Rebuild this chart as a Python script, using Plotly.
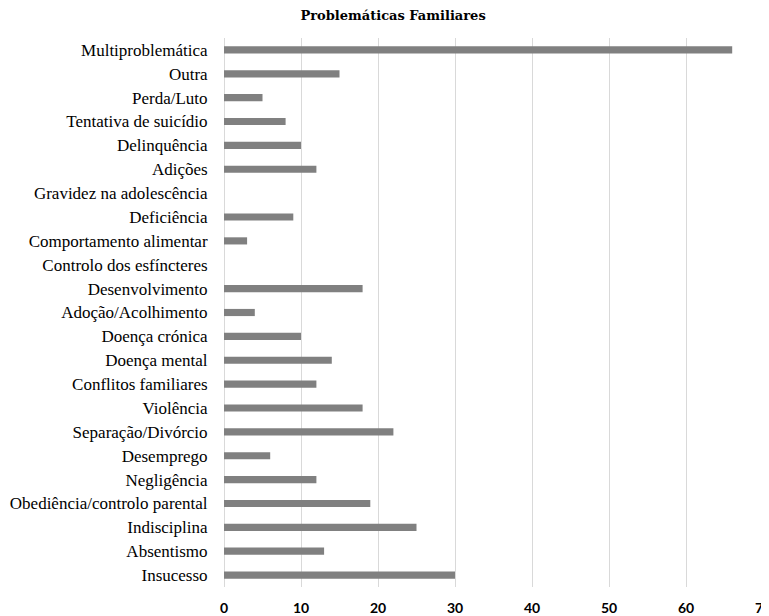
import plotly.graph_objects as go

categories = [
    "Multiproblemática", "Outra", "Perda/Luto", "Tentativa de suicídio",
    "Delinquência", "Adições", "Gravidez na adolescência", "Deficiência",
    "Comportamento alimentar", "Controlo dos esfíncteres", "Desenvolvimento",
    "Adoção/Acolhimento", "Doença crónica", "Doença mental",
    "Conflitos familiares", "Violência", "Separação/Divórcio", "Desemprego",
    "Negligência", "Obediência/controlo parental", "Indisciplina",
    "Absentismo", "Insucesso",
]
values = [66, 15, 5, 8, 10, 12, 0, 9, 3, 0, 18, 4, 10, 14, 12, 18, 22, 6,
          12, 19, 25, 13, 30]
tick_vals = [0, 10, 20, 30, 40, 50, 60, 70]

fig = go.Figure(go.Bar(
    x=values, y=categories, orientation="h",
    marker=dict(color="#808080", line=dict(width=0)),
))

fig.update_layout(
    width=761, height=608,
    margin=dict(l=216, r=6, t=30, b=29),
    paper_bgcolor="white", plot_bgcolor="white",
    bargap=0.7,
    showlegend=False,
    title=dict(text="<b>Problemáticas Familiares</b>", x=0.506, xanchor="center",
               y=0.987, yanchor="middle",
               font=dict(family="DejaVu Serif", size=13, color="#000")),
)
fig.update_xaxes(
    range=[0, 70], tickvals=tick_vals, showgrid=True, gridcolor="#d9d9d9",
    gridwidth=1, zeroline=True, zerolinecolor="#d9d9d9", zerolinewidth=1,
    showline=False, ticks="outside", ticklen=8, tickcolor="rgba(0,0,0,0)",
    tickfont=dict(family="Lato", size=14, color="#000", weight="bold"),
    ticklabeloverflow="allow",
    automargin=False,
)
fig.update_yaxes(
    categoryorder="array", categoryarray=categories[::-1],
    showgrid=False, showline=False, ticks="outside", ticklen=12,
    tickcolor="rgba(0,0,0,0)",
    tickfont=dict(family="Liberation Serif", size=17, color="#000"),
    ticklabeloverflow="allow",
    automargin=False,
)

fig.write_html("out.html")
